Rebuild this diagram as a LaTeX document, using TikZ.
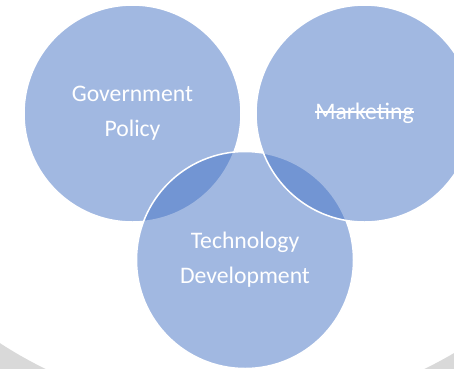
\documentclass[tikz,border=0pt]{standalone}
\usepackage{fontspec}
\setmainfont{Carlito}
\usepackage{tikz}
\definecolor{bubblecolor}{RGB}{68, 114, 196}
\definecolor{backcolor}{RGB}{217, 217, 217}
\newcommand{\struckword}[1]{\setbox0\hbox{#1}\rlap{\rule[0.3em]{\wd0}{0.06em}}\box0}

\begin{document}
\begin{tikzpicture}[x=1pt, y=-1pt,
    bubble/.style={circle, minimum size=217pt, inner sep=0pt, fill=bubblecolor,
        fill opacity=0.5, text opacity=1, draw=white, line width=1.5pt,
        text=white, align=center, font=\fontsize{23.7}{35}\selectfont}]
    \useasboundingbox (0, 0) rectangle (454, 368);

    % Background ring
    \begin{scope}
        \clip (0, 0) rectangle (454, 368);
        \fill[backcolor, even odd rule] (-20, -20) rectangle (474, 388) (235, -19.4) circle (432pt);
    \end{scope}

    % Bubbles
    \node[bubble] (policy) at (132.5, 113.5) {Government\\Policy};
    \node[bubble] (tech) at (245, 260) {Technology\\Development};
    \node[bubble] (market) at (364.5, 113.5) {\struckword{Marketing}};

\end{tikzpicture}
\end{document}
